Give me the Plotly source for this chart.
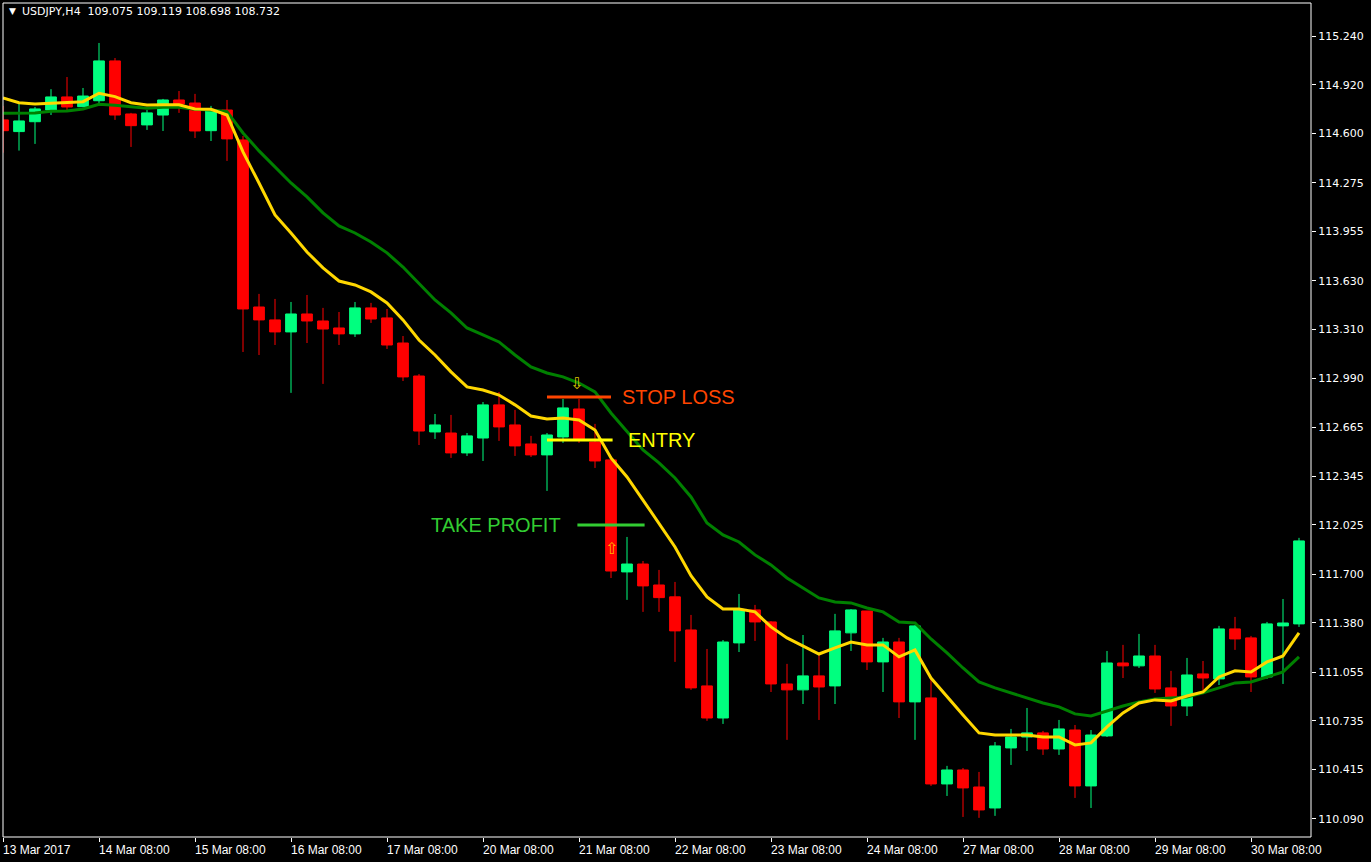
import plotly.graph_objects as go

# ---------------- data ----------------
header_text = "USDJPY,H4\u00a0\u00a0109.075 109.119 108.698 108.732"

bar_index = list(range(82))

date_tick_pos = [0, 6, 12, 18, 24, 30, 36, 42, 48, 54, 60, 66, 72, 78]
date_tick_labels = ["13 Mar 2017", "14 Mar 08:00", "15 Mar 08:00", "16 Mar 08:00",
                    "17 Mar 08:00", "20 Mar 08:00", "21 Mar 08:00", "22 Mar 08:00",
                    "23 Mar 08:00", "24 Mar 08:00", "27 Mar 08:00", "28 Mar 08:00",
                    "29 Mar 08:00", "30 Mar 08:00"]

price_ticks = [115.240, 114.920, 114.600, 114.275, 113.955, 113.630, 113.310, 112.990,
               112.665, 112.345, 112.025, 111.700, 111.380, 111.055, 110.735, 110.415, 110.090]
price_tick_labels = ["115.240", "114.920", "114.600", "114.275", "113.955", "113.630",
                     "113.310", "112.990", "112.665", "112.345", "112.025", "111.700",
                     "111.380", "111.055", "110.735", "110.415", "110.090"]

opens = [114.689, 114.612, 114.677, 114.754, 114.840, 114.776, 114.815, 115.077, 114.728, 114.656,
         114.721, 114.820, 114.800, 114.618, 114.754, 114.557, 113.458, 113.373, 113.294, 113.412,
         113.366, 113.320, 113.281, 113.452, 113.386, 113.221, 113.004, 112.636, 112.629, 112.498,
         112.596, 112.814, 112.682, 112.557, 112.485, 112.603, 112.787, 112.570, 112.452, 111.715,
         111.767, 111.629, 111.551, 111.333, 110.965, 110.754, 111.248, 111.465, 111.386, 110.978,
         110.939, 111.031, 110.965, 111.314, 111.458, 111.123, 111.254, 110.860, 110.886, 110.320,
         110.412, 110.300, 110.162, 110.557, 110.629, 110.656, 110.550, 110.675, 110.307, 110.636,
         111.116, 111.097, 111.162, 110.952, 110.833, 111.044, 111.011, 111.340, 111.281, 111.024,
         111.360, 111.373]

highs = [114.781, 114.802, 114.774, 114.891, 114.971, 114.899, 115.195, 115.096, 114.735, 114.754,
         114.827, 114.879, 114.860, 114.781, 114.820, 114.583, 113.544, 113.511, 113.491, 113.537,
         113.452, 113.425, 113.491, 113.485, 113.445, 113.267, 113.017, 112.754, 112.748, 112.629,
         112.833, 112.899, 112.781, 112.610, 112.629, 112.853, 112.853, 112.689, 112.478, 111.945,
         111.787, 111.728, 111.649, 111.432, 111.208, 111.267, 111.570, 111.498, 111.392, 111.110,
         111.300, 111.169, 111.439, 111.471, 111.458, 111.281, 111.281, 111.365, 111.011, 110.439,
         110.425, 110.399, 110.596, 110.682, 110.820, 110.669, 110.741, 110.708, 110.675, 111.195,
         111.235, 111.307, 111.235, 111.064, 111.149, 111.129, 111.360, 111.419, 111.294, 111.386,
         111.537, 111.939]

lows = [114.473, 114.487, 114.531, 114.721, 114.754, 114.772, 114.794, 114.689, 114.511, 114.623,
        114.616, 114.735, 114.570, 114.550, 114.419, 113.162, 113.142, 113.208, 112.893, 113.221,
        112.952, 113.208, 113.261, 113.353, 113.182, 112.971, 112.550, 112.590, 112.465, 112.478,
        112.445, 112.577, 112.478, 112.471, 112.248, 112.564, 112.564, 112.399, 111.675, 111.531,
        111.452, 111.452, 111.123, 110.939, 110.735, 110.715, 111.188, 111.261, 110.925, 110.610,
        110.846, 110.741, 110.846, 111.195, 111.070, 110.925, 110.754, 110.610, 110.307, 110.241,
        110.103, 110.097, 110.110, 110.445, 110.537, 110.511, 110.511, 110.228, 110.162, 110.629,
        111.017, 111.083, 110.919, 110.702, 110.767, 110.932, 110.971, 111.202, 110.925, 111.011,
        110.978, 111.353]

closes = [114.618, 114.682, 114.761, 114.840, 114.774, 114.846, 115.077, 114.721, 114.651, 114.735,
          114.820, 114.794, 114.616, 114.754, 114.564, 113.445, 113.373, 113.294, 113.412, 113.366,
          113.313, 113.281, 113.452, 113.379, 113.208, 112.998, 112.642, 112.682, 112.498, 112.610,
          112.814, 112.669, 112.544, 112.485, 112.616, 112.794, 112.590, 112.445, 111.721, 111.767,
          111.623, 111.546, 111.327, 110.952, 110.754, 111.254, 111.465, 111.386, 110.978, 110.939,
          111.031, 110.958, 111.327, 111.465, 111.123, 111.254, 110.860, 111.360, 110.320, 110.412,
          110.294, 110.149, 110.570, 110.629, 110.656, 110.550, 110.682, 110.307, 110.642, 111.116,
          111.097, 111.162, 110.945, 110.833, 111.037, 111.017, 111.340, 111.274, 111.024, 111.373,
          111.379, 111.919]

ma_fast = [114.833, 114.802, 114.794, 114.800, 114.802, 114.809, 114.864, 114.842, 114.802, 114.787,
           114.789, 114.789, 114.761, 114.759, 114.721, 114.478, 114.274, 114.064, 113.945, 113.820,
           113.715, 113.629, 113.603, 113.557, 113.485, 113.373, 113.241, 113.142, 113.031, 112.932,
           112.912, 112.879, 112.814, 112.741, 112.721, 112.728, 112.715, 112.649, 112.465, 112.340,
           112.188, 112.037, 111.879, 111.690, 111.550, 111.471, 111.471, 111.452, 111.353, 111.281,
           111.228, 111.175, 111.215, 111.254, 111.235, 111.235, 111.156, 111.202, 111.017, 110.892,
           110.774, 110.656, 110.642, 110.642, 110.642, 110.629, 110.629, 110.577, 110.590, 110.695,
           110.787, 110.853, 110.873, 110.866, 110.899, 110.925, 111.024, 111.064, 111.057, 111.123,
           111.162, 111.314]

ma_slow = [114.733, 114.733, 114.735, 114.746, 114.748, 114.761, 114.792, 114.785, 114.776, 114.766,
           114.772, 114.772, 114.759, 114.754, 114.743, 114.603, 114.485, 114.379, 114.274, 114.182,
           114.077, 113.991, 113.945, 113.886, 113.814, 113.721, 113.610, 113.504, 113.419, 113.320,
           113.274, 113.228, 113.142, 113.064, 113.024, 112.998, 112.958, 112.899, 112.761, 112.636,
           112.517, 112.432, 112.333, 112.208, 112.037, 111.958, 111.912, 111.827, 111.761, 111.675,
           111.610, 111.544, 111.517, 111.511, 111.478, 111.452, 111.386, 111.379, 111.274, 111.182,
           111.083, 110.991, 110.952, 110.919, 110.886, 110.853, 110.827, 110.781, 110.767, 110.800,
           110.833, 110.860, 110.879, 110.886, 110.892, 110.919, 110.952, 110.985, 110.991, 111.024,
           111.057, 111.156]

# trade levels (price) and the bar spans they cover
stop_loss_price = 112.866
entry_price = 112.583
take_profit_price = 112.024
stop_loss_span = [34.0, 38.0]
entry_span = [34.0, 38.1]
take_profit_span = [35.9, 40.1]
sell_arrow_bar, sell_arrow_price = 35.85, 112.952
buy_arrow_bar, buy_arrow_price = 38.0, 111.866

# ---------------- figure ----------------
BULL = "#00FF7F"
BEAR = "#FF0000"

fig = go.Figure()

fig.add_trace(go.Candlestick(
    x=bar_index, open=opens, high=highs, low=lows, close=closes,
    increasing=dict(line=dict(color=BULL, width=1), fillcolor=BULL),
    decreasing=dict(line=dict(color=BEAR, width=1), fillcolor=BEAR),
    whiskerwidth=0, showlegend=False, hoverinfo="skip"))

fig.add_trace(go.Scatter(x=bar_index, y=ma_slow, mode="lines",
                         line=dict(color="#008000", width=3), showlegend=False, hoverinfo="skip"))
fig.add_trace(go.Scatter(x=bar_index, y=ma_fast, mode="lines",
                         line=dict(color="#FFD700", width=3), showlegend=False, hoverinfo="skip"))

levels = [
    (stop_loss_span, stop_loss_price, "#FF4500"),
    (entry_span, entry_price, "#FFFF00"),
    (take_profit_span, take_profit_price, "#32CD32"),
]
for span, price, col in levels:
    fig.add_trace(go.Scatter(x=span, y=[price, price], mode="lines",
                             line=dict(color=col, width=3), showlegend=False, hoverinfo="skip"))

annotations = []
label_font = "Liberation Sans, Arial, sans-serif"
annotations.append(dict(x=stop_loss_span[1] + 0.56, y=stop_loss_price, text="STOP LOSS",
                        xanchor="left", yanchor="middle", showarrow=False,
                        font=dict(family=label_font, size=20, color="#FF4500")))
annotations.append(dict(x=entry_span[1] + 0.84, y=entry_price, text="ENTRY",
                        xanchor="left", yanchor="middle", showarrow=False,
                        font=dict(family=label_font, size=20, color="#FFFF00")))
annotations.append(dict(x=take_profit_span[0] - 0.9, y=take_profit_price, text="TAKE PROFIT",
                        xanchor="right", yanchor="middle", showarrow=False,
                        font=dict(family=label_font, size=20, color="#32CD32")))
annotations.append(dict(x=sell_arrow_bar, y=sell_arrow_price, text="\u21e9",
                        xanchor="center", yanchor="middle", showarrow=False,
                        font=dict(family="DejaVu Sans", size=16, color="#D8C400")))
annotations.append(dict(x=buy_arrow_bar, y=buy_arrow_price, text="\u21e7",
                        xanchor="center", yanchor="middle", showarrow=False,
                        font=dict(family="DejaVu Sans", size=16, color="#FFB000")))

# header
annotations.append(dict(xref="paper", yref="paper", x=0, y=1, xshift=4, yshift=-8,
                        text="\u25bc", xanchor="left", yanchor="middle", showarrow=False,
                        font=dict(family="DejaVu Sans", size=9, color="white")))
annotations.append(dict(xref="paper", yref="paper", x=0, y=1, xshift=17, yshift=-8,
                        text=header_text, xanchor="left", yanchor="middle", showarrow=False,
                        font=dict(family="DejaVu Sans", size=11, color="white")))

# date labels, left-aligned at their tick like MT4
for pos, lab in zip(date_tick_pos, date_tick_labels):
    annotations.append(dict(x=pos, xref="x", yref="paper", y=0, yshift=-4,
                            text=lab, xanchor="left", yanchor="top", showarrow=False,
                            xshift=-2,
                            font=dict(family="Liberation Sans Narrow, Liberation Sans, Arial",
                                      size=12, color="white")))

fig.update_layout(
    width=1371, height=862,
    margin=dict(l=3, r=60, t=3, b=25, pad=0),
    paper_bgcolor="black", plot_bgcolor="black",
    boxgap=0.33, boxgroupgap=0,
    annotations=annotations,
    shapes=[dict(type="rect", xref="paper", yref="paper", x0=0, x1=1, y0=0, y1=1,
                 line=dict(color="white", width=1), fillcolor="rgba(0,0,0,0)", layer="above")],
    xaxis=dict(range=[0, 81.75], showgrid=False, zeroline=False, showline=False,
               rangeslider=dict(visible=False), tickmode="array", tickvals=date_tick_pos,
               ticks="outside", ticklen=4, tickcolor="white", tickwidth=1,
               showticklabels=False, fixedrange=True),
    yaxis=dict(range=[109.971, 115.458], side="right", showgrid=False, zeroline=False,
               showline=False, tickmode="array", tickvals=price_ticks, ticktext=price_tick_labels,
               ticks="outside", ticklen=4, tickcolor="white", tickwidth=1,
               tickfont=dict(family="DejaVu Sans", size=11, color="white"), fixedrange=True),
)

fig.write_html("out.html", config={"displayModeBar": False})

# remove the default page margin so the figure sits at the window's top-left corner
with open("out.html", "r", encoding="utf-8") as fh:
    page = fh.read()
page = page.replace("<head>", "<head><style>html,body{margin:0;padding:0;background:#000;overflow:hidden;}</style>", 1)
with open("out.html", "w", encoding="utf-8") as fh:
    fh.write(page)
